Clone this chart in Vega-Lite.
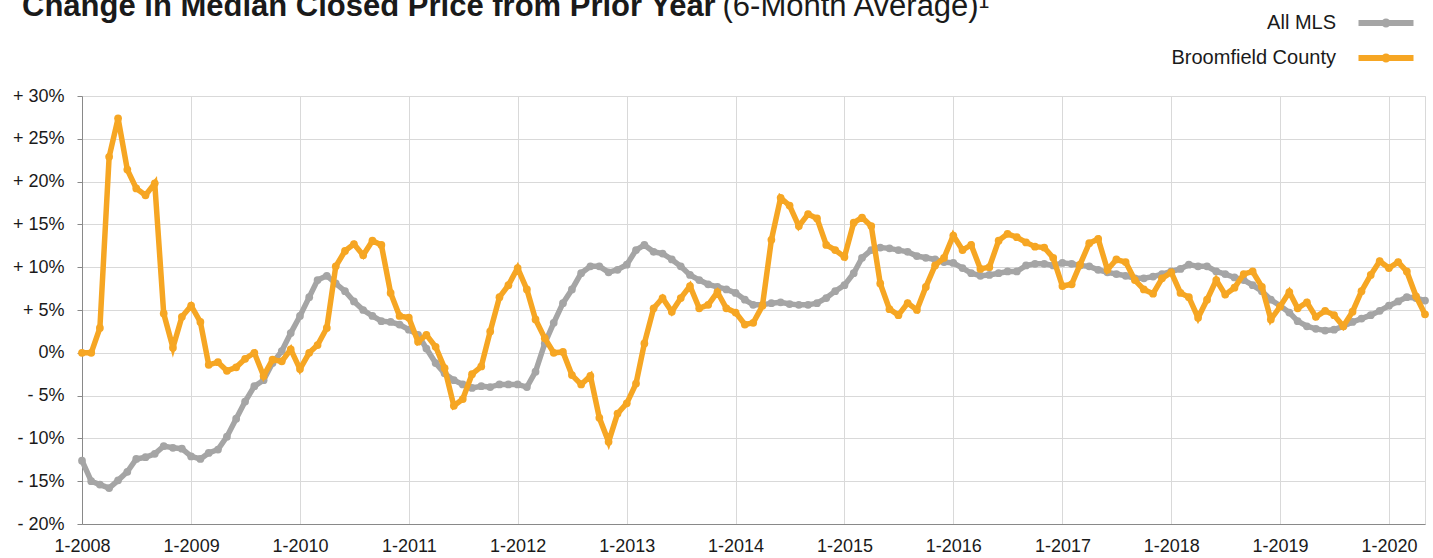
{
  "$schema": "https://vega.github.io/schema/vega-lite/v6.json",
  "width": 1343,
  "height": 428,
  "autosize": {"type": "none"},
  "padding": {"left": 82, "top": 96, "right": 8, "bottom": 34},
  "background": "white",
  "config": {"view": {"stroke": "#D9D9D9", "strokeWidth": 1}},
  "title": {
    "text": "Change in Median Closed Price from Prior Year",
    "anchor": "start",
    "frame": "group",
    "font": "Liberation Sans",
    "fontSize": 31,
    "fontWeight": "bold",
    "color": "#1a1a1a",
    "baseline": "alphabetic",
    "offset": 0,
    "dx": -60,
    "dy": 57
  },
  "data": {
    "values": [
      {"d": "2008-01-01", "All MLS": -12.6, "Broomfield County": 0},
      {"d": "2008-02-01", "All MLS": -15.0, "Broomfield County": 0},
      {"d": "2008-03-01", "All MLS": -15.4, "Broomfield County": 2.9},
      {"d": "2008-04-01", "All MLS": -15.8, "Broomfield County": 22.9},
      {"d": "2008-05-01", "All MLS": -14.9, "Broomfield County": 27.4},
      {"d": "2008-06-01", "All MLS": -13.9, "Broomfield County": 21.4},
      {"d": "2008-07-01", "All MLS": -12.4, "Broomfield County": 19.2},
      {"d": "2008-08-01", "All MLS": -12.2, "Broomfield County": 18.4},
      {"d": "2008-09-01", "All MLS": -11.8, "Broomfield County": 19.8},
      {"d": "2008-10-01", "All MLS": -10.9, "Broomfield County": 4.6},
      {"d": "2008-11-01", "All MLS": -11.1, "Broomfield County": 0.6},
      {"d": "2008-12-01", "All MLS": -11.2, "Broomfield County": 4.2},
      {"d": "2009-01-01", "All MLS": -12.1, "Broomfield County": 5.5},
      {"d": "2009-02-01", "All MLS": -12.4, "Broomfield County": 3.6},
      {"d": "2009-03-01", "All MLS": -11.7, "Broomfield County": -1.4},
      {"d": "2009-04-01", "All MLS": -11.3, "Broomfield County": -1.1},
      {"d": "2009-05-01", "All MLS": -9.8, "Broomfield County": -2.1},
      {"d": "2009-06-01", "All MLS": -7.7, "Broomfield County": -1.7},
      {"d": "2009-07-01", "All MLS": -5.7, "Broomfield County": -0.7},
      {"d": "2009-08-01", "All MLS": -3.9, "Broomfield County": 0},
      {"d": "2009-09-01", "All MLS": -3.2, "Broomfield County": -2.7},
      {"d": "2009-10-01", "All MLS": -1.2, "Broomfield County": -0.8},
      {"d": "2009-11-01", "All MLS": 0.2, "Broomfield County": -1.0},
      {"d": "2009-12-01", "All MLS": 2.3, "Broomfield County": 0.4},
      {"d": "2010-01-01", "All MLS": 4.3, "Broomfield County": -1.9},
      {"d": "2010-02-01", "All MLS": 6.5, "Broomfield County": 0},
      {"d": "2010-03-01", "All MLS": 8.5, "Broomfield County": 0.9},
      {"d": "2010-04-01", "All MLS": 9.0, "Broomfield County": 2.9},
      {"d": "2010-05-01", "All MLS": 8.1, "Broomfield County": 10.1},
      {"d": "2010-06-01", "All MLS": 7.2, "Broomfield County": 11.9},
      {"d": "2010-07-01", "All MLS": 6.0, "Broomfield County": 12.7},
      {"d": "2010-08-01", "All MLS": 5.0, "Broomfield County": 11.4},
      {"d": "2010-09-01", "All MLS": 4.3, "Broomfield County": 13.1},
      {"d": "2010-10-01", "All MLS": 3.7, "Broomfield County": 12.6},
      {"d": "2010-11-01", "All MLS": 3.6, "Broomfield County": 7.0},
      {"d": "2010-12-01", "All MLS": 3.3, "Broomfield County": 4.3},
      {"d": "2011-01-01", "All MLS": 2.7, "Broomfield County": 4.1},
      {"d": "2011-02-01", "All MLS": 2.1, "Broomfield County": 1.3},
      {"d": "2011-03-01", "All MLS": 0.5, "Broomfield County": 2.1},
      {"d": "2011-04-01", "All MLS": -1.2, "Broomfield County": 0.7},
      {"d": "2011-05-01", "All MLS": -2.4, "Broomfield County": -1.8},
      {"d": "2011-06-01", "All MLS": -3.2, "Broomfield County": -6.2},
      {"d": "2011-07-01", "All MLS": -3.7, "Broomfield County": -5.4},
      {"d": "2011-08-01", "All MLS": -4.1, "Broomfield County": -2.5},
      {"d": "2011-09-01", "All MLS": -3.9, "Broomfield County": -1.6},
      {"d": "2011-10-01", "All MLS": -4.0, "Broomfield County": 2.5},
      {"d": "2011-11-01", "All MLS": -3.7, "Broomfield County": 6.5},
      {"d": "2011-12-01", "All MLS": -3.7, "Broomfield County": 7.9},
      {"d": "2012-01-01", "All MLS": -3.7, "Broomfield County": 9.9},
      {"d": "2012-02-01", "All MLS": -4.0, "Broomfield County": 7.4},
      {"d": "2012-03-01", "All MLS": -2.2, "Broomfield County": 3.9},
      {"d": "2012-04-01", "All MLS": 1.1, "Broomfield County": 1.7},
      {"d": "2012-05-01", "All MLS": 3.5, "Broomfield County": 0},
      {"d": "2012-06-01", "All MLS": 5.8, "Broomfield County": 0.1},
      {"d": "2012-07-01", "All MLS": 7.4, "Broomfield County": -2.6},
      {"d": "2012-08-01", "All MLS": 9.3, "Broomfield County": -3.7},
      {"d": "2012-09-01", "All MLS": 10.1, "Broomfield County": -2.7},
      {"d": "2012-10-01", "All MLS": 10.1, "Broomfield County": -7.6},
      {"d": "2012-11-01", "All MLS": 9.4, "Broomfield County": -10.4},
      {"d": "2012-12-01", "All MLS": 9.7, "Broomfield County": -7.1},
      {"d": "2013-01-01", "All MLS": 10.3, "Broomfield County": -5.9},
      {"d": "2013-02-01", "All MLS": 12.0, "Broomfield County": -3.6},
      {"d": "2013-03-01", "All MLS": 12.6, "Broomfield County": 1.1},
      {"d": "2013-04-01", "All MLS": 11.8, "Broomfield County": 5.2},
      {"d": "2013-05-01", "All MLS": 11.6, "Broomfield County": 6.4},
      {"d": "2013-06-01", "All MLS": 10.9, "Broomfield County": 4.8},
      {"d": "2013-07-01", "All MLS": 10.1, "Broomfield County": 6.4},
      {"d": "2013-08-01", "All MLS": 9.1, "Broomfield County": 7.8},
      {"d": "2013-09-01", "All MLS": 8.5, "Broomfield County": 5.2},
      {"d": "2013-10-01", "All MLS": 8.0, "Broomfield County": 5.6},
      {"d": "2013-11-01", "All MLS": 7.7, "Broomfield County": 7.1},
      {"d": "2013-12-01", "All MLS": 7.4, "Broomfield County": 5.2},
      {"d": "2014-01-01", "All MLS": 7.0, "Broomfield County": 4.7},
      {"d": "2014-02-01", "All MLS": 6.2, "Broomfield County": 3.3},
      {"d": "2014-03-01", "All MLS": 5.6, "Broomfield County": 3.5},
      {"d": "2014-04-01", "All MLS": 5.6, "Broomfield County": 5.5},
      {"d": "2014-05-01", "All MLS": 5.8, "Broomfield County": 13.2},
      {"d": "2014-06-01", "All MLS": 5.9, "Broomfield County": 18.1},
      {"d": "2014-07-01", "All MLS": 5.7, "Broomfield County": 17.2},
      {"d": "2014-08-01", "All MLS": 5.6, "Broomfield County": 14.8},
      {"d": "2014-09-01", "All MLS": 5.6, "Broomfield County": 16.2},
      {"d": "2014-10-01", "All MLS": 5.8, "Broomfield County": 15.7},
      {"d": "2014-11-01", "All MLS": 6.4, "Broomfield County": 12.6},
      {"d": "2014-12-01", "All MLS": 7.2, "Broomfield County": 12.0},
      {"d": "2015-01-01", "All MLS": 7.9, "Broomfield County": 11.2},
      {"d": "2015-02-01", "All MLS": 9.3, "Broomfield County": 15.2},
      {"d": "2015-03-01", "All MLS": 11.1, "Broomfield County": 15.8},
      {"d": "2015-04-01", "All MLS": 12.0, "Broomfield County": 14.8},
      {"d": "2015-05-01", "All MLS": 12.3, "Broomfield County": 8.1},
      {"d": "2015-06-01", "All MLS": 12.2, "Broomfield County": 5.1},
      {"d": "2015-07-01", "All MLS": 12.0, "Broomfield County": 4.4},
      {"d": "2015-08-01", "All MLS": 11.8, "Broomfield County": 5.8},
      {"d": "2015-09-01", "All MLS": 11.3, "Broomfield County": 5.0},
      {"d": "2015-10-01", "All MLS": 11.1, "Broomfield County": 7.7},
      {"d": "2015-11-01", "All MLS": 10.9, "Broomfield County": 10.2},
      {"d": "2015-12-01", "All MLS": 10.6, "Broomfield County": 11.1},
      {"d": "2016-01-01", "All MLS": 10.5, "Broomfield County": 13.7},
      {"d": "2016-02-01", "All MLS": 9.9, "Broomfield County": 12.0},
      {"d": "2016-03-01", "All MLS": 9.3, "Broomfield County": 12.6},
      {"d": "2016-04-01", "All MLS": 9.0, "Broomfield County": 9.8},
      {"d": "2016-05-01", "All MLS": 9.1, "Broomfield County": 10.0},
      {"d": "2016-06-01", "All MLS": 9.3, "Broomfield County": 13.1},
      {"d": "2016-07-01", "All MLS": 9.5, "Broomfield County": 13.9},
      {"d": "2016-08-01", "All MLS": 9.5, "Broomfield County": 13.5},
      {"d": "2016-09-01", "All MLS": 10.2, "Broomfield County": 12.9},
      {"d": "2016-10-01", "All MLS": 10.4, "Broomfield County": 12.4},
      {"d": "2016-11-01", "All MLS": 10.4, "Broomfield County": 12.3},
      {"d": "2016-12-01", "All MLS": 10.2, "Broomfield County": 11.1},
      {"d": "2017-01-01", "All MLS": 10.5, "Broomfield County": 7.8},
      {"d": "2017-02-01", "All MLS": 10.4, "Broomfield County": 8.0},
      {"d": "2017-03-01", "All MLS": 10.2, "Broomfield County": 10.3},
      {"d": "2017-04-01", "All MLS": 10.1, "Broomfield County": 12.8},
      {"d": "2017-05-01", "All MLS": 9.7, "Broomfield County": 13.3},
      {"d": "2017-06-01", "All MLS": 9.4, "Broomfield County": 9.7},
      {"d": "2017-07-01", "All MLS": 9.2, "Broomfield County": 10.9},
      {"d": "2017-08-01", "All MLS": 9.0, "Broomfield County": 10.6},
      {"d": "2017-09-01", "All MLS": 8.7, "Broomfield County": 8.5},
      {"d": "2017-10-01", "All MLS": 8.7, "Broomfield County": 7.4},
      {"d": "2017-11-01", "All MLS": 8.9, "Broomfield County": 6.9},
      {"d": "2017-12-01", "All MLS": 9.2, "Broomfield County": 8.7},
      {"d": "2018-01-01", "All MLS": 9.5, "Broomfield County": 9.4},
      {"d": "2018-02-01", "All MLS": 9.8, "Broomfield County": 7.0},
      {"d": "2018-03-01", "All MLS": 10.3, "Broomfield County": 6.5},
      {"d": "2018-04-01", "All MLS": 10.1, "Broomfield County": 4.1},
      {"d": "2018-05-01", "All MLS": 10.1, "Broomfield County": 6.2},
      {"d": "2018-06-01", "All MLS": 9.5, "Broomfield County": 8.5},
      {"d": "2018-07-01", "All MLS": 9.2, "Broomfield County": 6.8},
      {"d": "2018-08-01", "All MLS": 8.8, "Broomfield County": 7.6},
      {"d": "2018-09-01", "All MLS": 8.5, "Broomfield County": 9.2},
      {"d": "2018-10-01", "All MLS": 7.9, "Broomfield County": 9.5},
      {"d": "2018-11-01", "All MLS": 7.2, "Broomfield County": 7.7},
      {"d": "2018-12-01", "All MLS": 6.2, "Broomfield County": 3.9},
      {"d": "2019-01-01", "All MLS": 5.5, "Broomfield County": 5.4},
      {"d": "2019-02-01", "All MLS": 4.7, "Broomfield County": 7.1},
      {"d": "2019-03-01", "All MLS": 3.7, "Broomfield County": 5.2},
      {"d": "2019-04-01", "All MLS": 3.1, "Broomfield County": 5.9},
      {"d": "2019-05-01", "All MLS": 2.8, "Broomfield County": 4.2},
      {"d": "2019-06-01", "All MLS": 2.6, "Broomfield County": 4.9},
      {"d": "2019-07-01", "All MLS": 2.7, "Broomfield County": 4.4},
      {"d": "2019-08-01", "All MLS": 3.1, "Broomfield County": 3.1},
      {"d": "2019-09-01", "All MLS": 3.6, "Broomfield County": 4.8},
      {"d": "2019-10-01", "All MLS": 4.0, "Broomfield County": 7.2},
      {"d": "2019-11-01", "All MLS": 4.4, "Broomfield County": 9.1},
      {"d": "2019-12-01", "All MLS": 4.9, "Broomfield County": 10.7},
      {"d": "2020-01-01", "All MLS": 5.5, "Broomfield County": 9.9},
      {"d": "2020-02-01", "All MLS": 6.0, "Broomfield County": 10.6},
      {"d": "2020-03-01", "All MLS": 6.5, "Broomfield County": 9.5},
      {"d": "2020-04-01", "All MLS": 6.4, "Broomfield County": 6.6},
      {"d": "2020-05-01", "All MLS": 6.1, "Broomfield County": 4.5}
    ]
  },
  "transform": [{"fold": ["All MLS", "Broomfield County"], "as": ["series", "pct"]}],
  "layer": [
    {
      "data": {"values": [{"zero": 0}]},
      "mark": {"type": "rule", "color": "#7F7F7F", "strokeWidth": 1},
      "encoding": {"y": {"field": "zero", "type": "quantitative"}}
    },
    {
      "transform": [{"filter": "datum.series === 'All MLS'"}],
      "mark": {"type": "line", "strokeWidth": 5.5, "point": {"filled": true, "size": 60}},
      "encoding": {
        "x": {"field": "d", "type": "temporal"},
        "y": {"field": "pct", "type": "quantitative"},
        "color": {"field": "series", "type": "nominal"}
      }
    },
    {
      "transform": [{"filter": "datum.series === 'Broomfield County'"}],
      "mark": {"type": "line", "strokeWidth": 5.5, "point": {"filled": true, "size": 60}},
      "encoding": {
        "x": {"field": "d", "type": "temporal"},
        "y": {"field": "pct", "type": "quantitative"},
        "color": {"field": "series", "type": "nominal"}
      }
    }
  ],
  "encoding": {
    "x": {
      "field": "d",
      "type": "temporal",
      "scale": {"type": "utc", "domain": [{"year": 2008, "month": 1, "date": 1, "utc": true}, {"year": 2020, "month": 5, "date": 1, "utc": true}]},
      "axis": {
        "title": null,
        "values": [
          {"year": 2008, "month": 1, "date": 1, "utc": true},
          {"year": 2009, "month": 1, "date": 1, "utc": true},
          {"year": 2010, "month": 1, "date": 1, "utc": true},
          {"year": 2011, "month": 1, "date": 1, "utc": true},
          {"year": 2012, "month": 1, "date": 1, "utc": true},
          {"year": 2013, "month": 1, "date": 1, "utc": true},
          {"year": 2014, "month": 1, "date": 1, "utc": true},
          {"year": 2015, "month": 1, "date": 1, "utc": true},
          {"year": 2016, "month": 1, "date": 1, "utc": true},
          {"year": 2017, "month": 1, "date": 1, "utc": true},
          {"year": 2018, "month": 1, "date": 1, "utc": true},
          {"year": 2019, "month": 1, "date": 1, "utc": true},
          {"year": 2020, "month": 1, "date": 1, "utc": true}
        ],
        "labelExpr": "'1-' + utcFormat(datum.value, '%Y')",
        "grid": true,
        "gridColor": "#D9D9D9",
        "gridWidth": 1,
        "ticks": false,
        "domainColor": "#898989",
        "labelFont": "Liberation Sans",
        "labelFontSize": 18,
        "labelColor": "#1a1a1a",
        "labelPadding": 13,
        "labelFlush": false,
        "labelOverlap": false
      }
    },
    "y": {
      "field": "pct",
      "type": "quantitative",
      "scale": {"domain": [-20, 30], "nice": false, "zero": false},
      "axis": {
        "values": [-20, -15, -10, -5, 0, 5, 10, 15, 20, 25, 30],
        "labelExpr": "datum.value > 0 ? '+ ' + datum.value + '%' : (datum.value < 0 ? '- ' + abs(datum.value) + '%' : '0%')",
        "grid": true,
        "gridColor": "#D9D9D9",
        "tickSize": 5,
        "tickColor": "#898989",
        "domainColor": "#898989",
        "labelFont": "Liberation Sans",
        "labelFontSize": 18,
        "labelColor": "#1a1a1a",
        "labelPadding": 13,
        "title": "(6-Month Average)¹",
        "titleAngle": 0,
        "titleX": 640,
        "titleY": -81,
        "titleAlign": "left",
        "titleBaseline": "alphabetic",
        "titleFont": "Liberation Sans",
        "titleFontSize": 31,
        "titleFontWeight": "normal",
        "titleColor": "#1a1a1a"
      }
    },
    "color": {
      "field": "series",
      "type": "nominal",
      "scale": {"domain": ["All MLS", "Broomfield County"], "range": ["#A5A5A5", "#F6A623"]},
      "legend": {
        "orient": "none",
        "legendX": 1291,
        "legendY": -86,
        "title": null,
        "direction": "vertical",
        "padding": 0,
        "labelFont": "Liberation Sans",
        "labelFontSize": 20,
        "labelColor": "#1a1a1a",
        "labelAlign": "right",
        "labelOffset": -63,
        "labelLimit": 400,
        "symbolType": "M-2.75,0H2.75M-0.15,0A0.15,0.15,0,1,0,0.15,0A0.15,0.15,0,1,0,-0.15,0",
        "symbolSize": 400,
        "symbolStrokeWidth": 6,
        "rowPadding": 7
      }
    }
  }
}
